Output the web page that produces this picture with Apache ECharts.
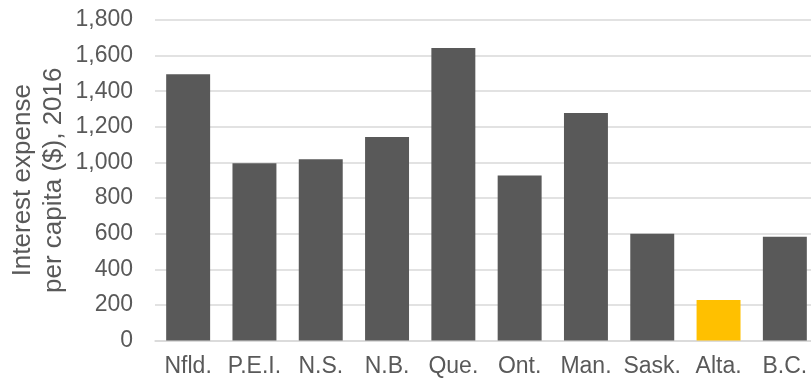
<!DOCTYPE html>
<html>
<head>
<meta charset="utf-8">
<script src="https://cdn.jsdelivr.net/npm/echarts@6/dist/echarts.min.js"></script>
<style>
html,body{margin:0;padding:0;background:#fff;overflow:hidden;width:811px;height:379px;}
#c{width:820px;height:379px;}
</style>
</head>
<body>
<div id="c"></div>
<script>
const categories = ['Nfld.', 'P.E.I.', 'N.S.', 'N.B.', 'Que.', 'Ont.', 'Man.', 'Sask.', 'Alta.', 'B.C.'];
const values = [1495, 995, 1018, 1143, 1643, 927, 1277, 600, 228, 582];
const highlight = 'Alta.';
const yTicks = { min: 0, max: 1800, interval: 200 };
const yName = 'Interest expense\nper capita ($), 2016';

const chart = echarts.init(document.getElementById('c'));
chart.setOption({
  animation: false,
  grid: { left: 155, top: 20, width: 663, height: 320.5, containLabel: false, outerBoundsMode: 'none' },
  xAxis: {
    type: 'category',
    data: categories,
    axisLine: { lineStyle: { color: '#d9d9d9', width: 1.5 } },
    axisTick: { show: false },
    axisLabel: { color: '#595959', fontSize: 23, fontFamily: 'Liberation Sans, Arial', margin: 15, interval: 0 }
  },
  yAxis: {
    type: 'value',
    min: yTicks.min, max: yTicks.max, interval: yTicks.interval,
    name: yName,
    nameLocation: 'middle',
    nameGap: 86,
    nameMoveOverlap: false,
    nameTextStyle: { color: '#595959', fontSize: 26, fontFamily: 'Liberation Sans, Arial', lineHeight: 31 },
    axisLine: { show: false },
    axisTick: { show: false },
    splitLine: { lineStyle: { color: '#d9d9d9', width: 1.5 } },
    axisLabel: {
      color: '#595959', fontSize: 23, fontFamily: 'Liberation Sans, Arial', margin: 22,
      formatter: v => v.toLocaleString('en-US')
    }
  },
  series: [{
    type: 'bar',
    data: values.map((v, i) => ({
      value: v,
      itemStyle: { color: categories[i] === highlight ? '#FFC000' : '#595959' }
    })),
    barCategoryGap: '33.7%'
  }]
});
</script>
</body>
</html>
